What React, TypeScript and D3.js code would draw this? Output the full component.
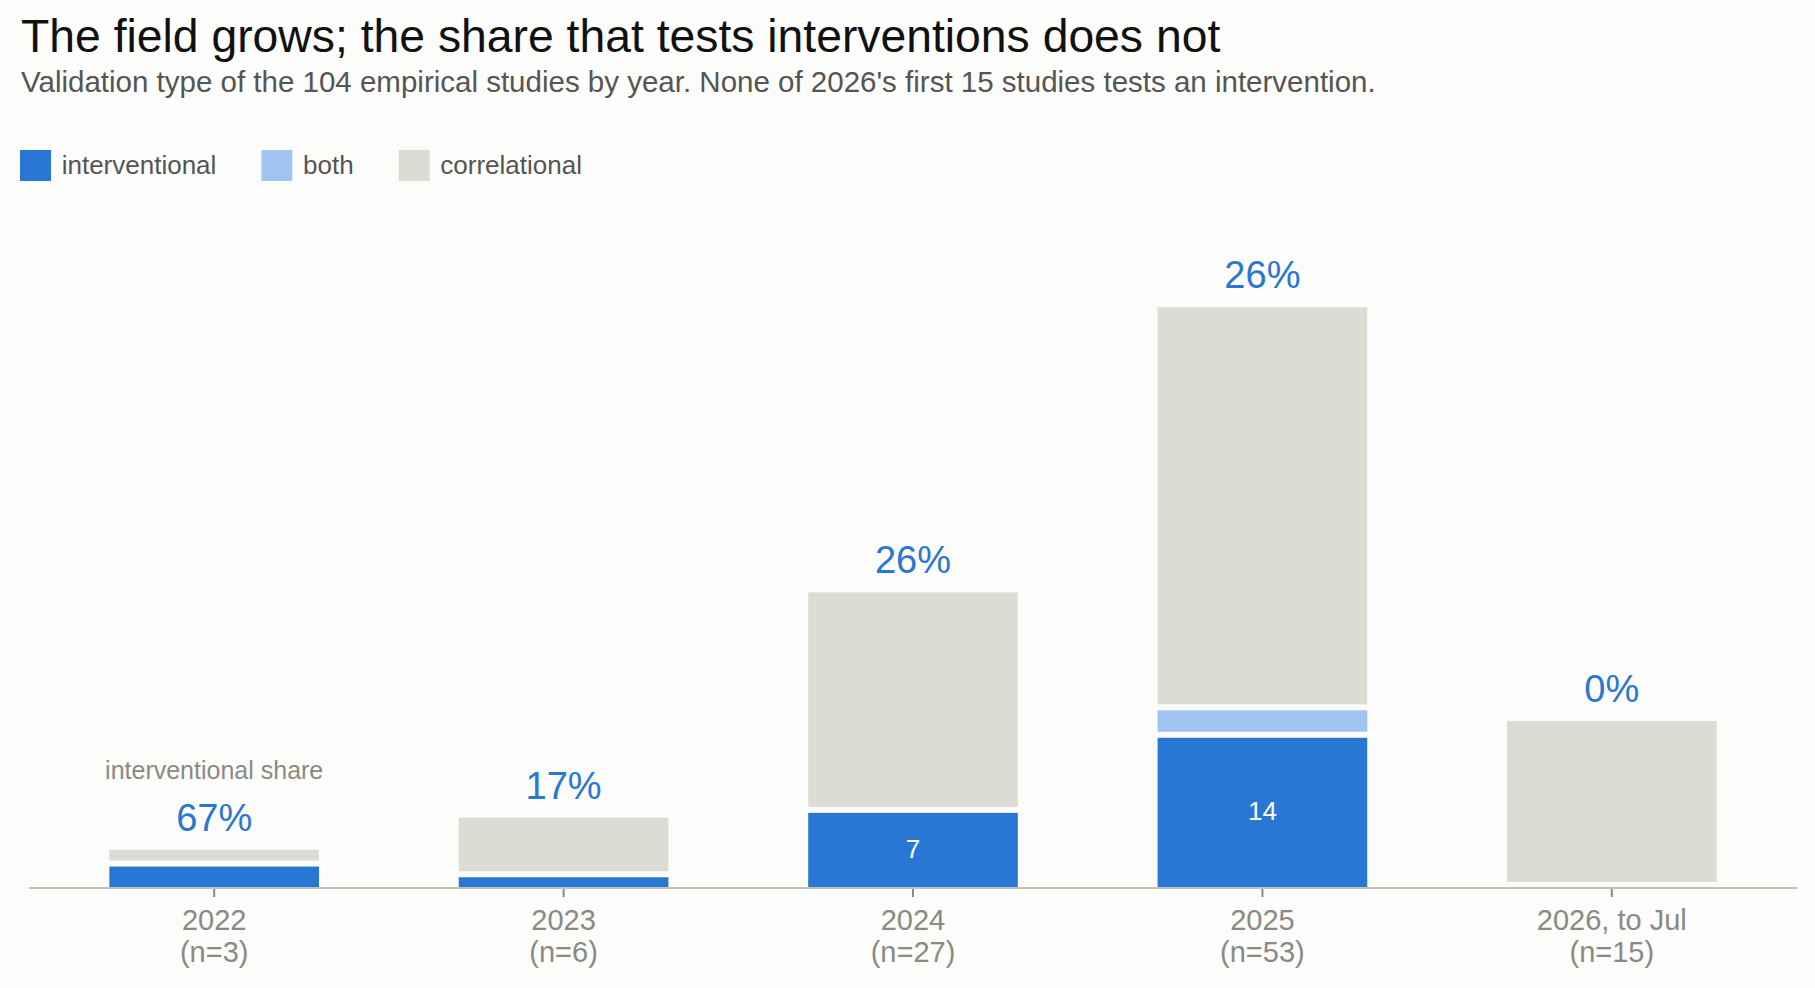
import React from "react";
import * as d3 from "d3";

const years = ["2022", "2023", "2024", "2025", "2026"];
const yearLabels = ["2022", "2023", "2024", "2025", "2026, to Jul"];
const interventional = [2, 1, 7, 14, 0];
const both = [0, 0, 0, 2, 0];
const correlational = [1, 5, 20, 37, 15];

const seriesKeys = ["interventional", "both", "correlational"];
const seriesLabels = ["interventional", "both", "correlational"];
const seriesColors = ["#2977d5", "#a1c5f3", "#dcdbd4"];

const TITLE = "The field grows; the share that tests interventions does not";
const SUBTITLE =
  "Validation type of the 104 empirical studies by year. None of 2026's first 15 studies tests an intervention.";

const W = 1815;
const H = 988;
const FONT = "'Liberation Sans', Arial, Helvetica, sans-serif";

function textWidth(text: string, size: number): number {
  const c = document.createElement("canvas").getContext("2d");
  if (!c) return text.length * size * 0.5;
  c.font = `${size}px ${FONT}`;
  return c.measureText(text).width;
}

export default function App() {
  const data = years.map((y, i) => ({
    year: y,
    interventional: interventional[i],
    both: both[i],
    correlational: correlational[i],
  }));
  const totals = data.map((d) => d.interventional + d.both + d.correlational);

  const axisY = 888;
  const unit = 10.73;
  const gap = 6;
  const maxTotal = d3.max(totals) as number;

  const x = d3
    .scaleBand<string>()
    .domain(years)
    .range([29, 1797])
    .paddingInner(0.4)
    .paddingOuter(0.23);
  const y = d3
    .scaleLinear()
    .domain([0, maxTotal])
    .range([axisY, axisY - maxTotal * unit]);

  const stacked = d3.stack<any>().keys(seriesKeys)(data);

  const offsets: number[][] = seriesKeys.map(() => years.map(() => 0));
  const topY: number[] = years.map(() => axisY);
  years.forEach((_, j) => {
    let off = 0;
    seriesKeys.forEach((k, si) => {
      const v = (data[j] as any)[k] as number;
      if (si > 0 && v > 0) off += gap;
      offsets[si][j] = off;
    });
    topY[j] = y(totals[j]) - off;
  });

  const legendFont = 26;
  const sw = 31;
  let lx = 20;
  const legendItems = seriesLabels.map((lab, i) => {
    const item = { x: lx, label: lab, color: seriesColors[i] };
    lx += sw + 10.7 + textWidth(lab, legendFont) + 45;
    return item;
  });

  return (
    <div style={{ position: "absolute", left: 0, top: 0 }}>
      <svg width={W} height={H} style={{ display: "block", fontFamily: FONT }}>
        <rect x={0} y={0} width={W} height={H} fill="#fcfcfa" />
        <text x={21} y={52} fontSize={46.3} fill="#111">
          {TITLE}
        </text>
        <text x={21} y={92} fontSize={29.5} fill="#555">
          {SUBTITLE}
        </text>

        {legendItems.map((it) => (
          <g key={it.label}>
            <rect x={it.x} y={150} width={sw} height={sw} fill={it.color} />
            <text x={it.x + sw + 10.7} y={173.5} fontSize={legendFont} fill="#555">
              {it.label}
            </text>
          </g>
        ))}

        {stacked.map((s, si) => (
          <g key={s.key} fill={seriesColors[si]}>
            {s.map((d, j) => {
              const y0 = y(d[0]) - offsets[si][j];
              const y1 = y(d[1]) - offsets[si][j];
              const h = y0 - y1;
              if (h <= 0) return null;
              return (
                <rect
                  key={years[j]}
                  x={x(years[j])}
                  y={y1}
                  width={x.bandwidth()}
                  height={h}
                />
              );
            })}
          </g>
        ))}

        {stacked[0].map((d, j) => {
          const v = d[1] - d[0];
          if (v < 5) return null;
          const cy = (y(d[0]) + y(d[1])) / 2;
          return (
            <text
              key={"c" + years[j]}
              x={(x(years[j]) as number) + x.bandwidth() / 2}
              y={cy + 7.5}
              textAnchor="middle"
              fontSize={26}
              fill="#fff"
            >
              {v}
            </text>
          );
        })}

        <line x1={29} x2={1797} y1={axisY} y2={axisY} stroke="#c2c1b9" strokeWidth={2} />
        {years.map((yr, j) => {
          const cx = (x(yr) as number) + x.bandwidth() / 2;
          return (
            <g key={"t" + yr}>
              <line x1={cx} x2={cx} y1={axisY + 1} y2={axisY + 9} stroke="#8a8a84" strokeWidth={2} />
              <text x={cx} y={930} textAnchor="middle" fontSize={29} fill="#8a8a84">
                {yearLabels[j]}
              </text>
              <text x={cx} y={962} textAnchor="middle" fontSize={29} fill="#8a8a84">
                {`(n=${totals[j]})`}
              </text>
            </g>
          );
        })}

        {years.map((yr, j) => {
          const cx = (x(yr) as number) + x.bandwidth() / 2;
          const pct = Math.round((interventional[j] / totals[j]) * 100);
          return (
            <text
              key={"p" + yr}
              x={cx}
              y={topY[j] - 19}
              textAnchor="middle"
              fontSize={38}
              fill="#2977d5"
            >
              {pct}%
            </text>
          );
        })}
        <text
          x={(x(years[0]) as number) + x.bandwidth() / 2}
          y={topY[0] - 19 - 51.6}
          textAnchor="middle"
          fontSize={25}
          fill="#8a8a84"
        >
          interventional share
        </text>
      </svg>
    </div>
  );
}
